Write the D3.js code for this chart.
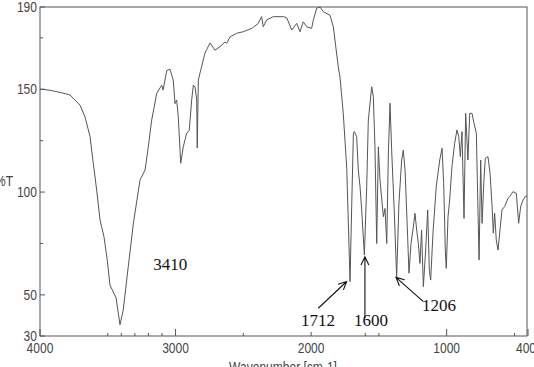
<!DOCTYPE html>
<html>
<head>
<meta charset="utf-8">
<script src="https://cdn.jsdelivr.net/npm/d3@7"></script>
<style>
  body { margin: 0; background: #fff; }
  .tick-label { font-family: "Liberation Sans", Arial, sans-serif; font-size: 14px; fill: #444; }
  .peak-label { font-family: "Liberation Serif", "DejaVu Serif", serif; font-size: 17px; fill: #111; }
</style>
</head>
<body>
<div id="chart"></div>
<script>
// spectrum: wavenumber (cm-1) and %T
const wavenumber = [
  4000, 3987, 3926, 3840, 3779, 3705, 3668, 3631, 3607, 3582, 3557, 3528, 3504, 3484, 3439, 3422, 3410,
  3386, 3349, 3311, 3262, 3225, 3201, 3176, 3139, 3102, 3092, 3065, 3041, 3017, 3004, 2992, 2980,
  2962, 2943, 2918, 2899, 2881, 2869, 2856, 2844, 2840, 2832, 2814, 2783, 2746, 2709, 2672, 2635,
  2623, 2598, 2549, 2500, 2438, 2390, 2365, 2353, 2328, 2279, 2205, 2180, 2143, 2106, 2082, 2058,
  2033, 1996, 1986, 1959, 1934, 1910, 1861, 1836, 1800, 1787, 1763, 1737, 1724, 1713, 1700, 1688,
  1681, 1664, 1652, 1639, 1627, 1607, 1590, 1578, 1553, 1541, 1529, 1516, 1504, 1492, 1467, 1455,
  1442, 1430, 1418, 1405, 1386, 1369, 1352, 1332, 1320, 1307, 1288, 1278, 1263, 1246, 1234, 1221,
  1209, 1197, 1185, 1172, 1155, 1140, 1128, 1118, 1101, 1077, 1051, 1034, 1022, 1010, 1003, 990,
  978, 961, 941, 924, 911, 899, 887, 872, 860, 843, 830, 813, 798, 781, 769, 761,
  749, 739, 725, 715, 695, 680, 665, 656, 646, 634, 621, 609, 592, 572, 547, 535,
  511, 486, 469, 454, 437, 420, 407
];
const transmittance = [
  150, 150, 149.5, 148.3, 147.2, 142.3, 136.6, 127, 114, 101, 86.4, 78.3, 67, 54.8, 48.5, 41, 35.5,
  42.6, 63.7, 84.9, 105.9, 110.7, 122, 135, 148, 152, 149.6, 159, 159.7, 154.5, 143, 144.8, 136.6,
  114, 122, 128.6, 130, 144.8, 152, 151, 144.8, 121.4, 154.5, 159.4, 167.6, 172.5, 169, 170.7, 173,
  172.3, 175.5, 177.2, 178, 179.6, 182, 185.3, 180.4, 183.7, 185.3, 185.3, 184.8, 178.8, 182, 178, 182.8,
  180.4, 179.6, 183, 189.4, 190, 187.7, 186, 180.4, 161, 156, 138.4, 111.5, 82, 56.4, 94.6, 128.6,
  129.4, 127, 110.7, 102.6, 91.3, 69.4, 102.6, 135, 151.2, 146.4, 122, 75, 122, 105.9, 88, 92,
  75, 119, 143.2, 119, 89.7, 58.8, 94.6, 115.6, 120.4, 110.7, 78.3, 60.6, 75, 83, 89.7, 81.5,
  75, 65.3, 81.5, 54, 71.8, 91.3, 62, 57.2, 80, 102.6, 115.6, 121.3, 104.2, 71.8, 62.9, 88,
  96.1, 112.3, 123.7, 130.2, 127, 117.2, 129.4, 87.2, 138.3, 115.6, 138.3, 138.3, 133.4, 128.6, 91.3, 67,
  115.6, 84.8, 105.9, 116.4, 117.2, 109.1, 93, 80, 89.7, 76.7, 71.8, 80, 91.3, 93, 97, 97.8,
  100.2, 99.4, 84.8, 93, 96.1, 97.8, 98
];

const yTicks = [190, 150, 100, 50, 30];
const yMinorTicks = [175, 125, 75];
const xTicks = [4000, 3000, 2000, 1000, 400];
const xMinorTicks = [3500, 3400, 3300, 3200, 3100, 2500, 1600, 1500, 500];

// peak labels: text, label position, arrow tip, arrow tail
const peakText = ["3410", "1712", "1600", "1206"];
const peakLabelAt = [[3165, 62], [2075, 34.8], [1684, 34.8], [1182, 42.1]];
const peakArrowTip = [null, [1738, 56.5], [1603, 68.5], [1374, 58.5]];
const peakArrowTail = [null, [1947, 43.5], [1603, 38.7], [1172, 46.7]];

const width = 534;
const height = 367;

const svg = d3.select("#chart").append("svg")
    .attr("width", width)
    .attr("height", height);

const x = d3.scaleLinear().domain([4000, 400]).range([40, 528]);
const y = d3.scaleLinear().domain([30, 190]).range([336, 7]);

// narrow sans labels, squeezed horizontally
function narrowText(g, tx, ty, anchor, str) {
  return g.append("text")
      .attr("class", "tick-label")
      .attr("transform", `translate(${tx},${ty}) scale(0.86,1)`)
      .attr("text-anchor", anchor)
      .text(str);
}

// frame
svg.append("rect")
    .attr("x", x(4000)).attr("y", y(190))
    .attr("width", 527 - x(4000)).attr("height", y(30) - y(190))
    .attr("fill", "none").attr("stroke", "#555").attr("stroke-width", 1);

// y ticks (inward)
svg.append("g").selectAll("line")
    .data(yTicks.concat(yMinorTicks))
    .join("line")
    .attr("x1", x(4000))
    .attr("x2", d => x(4000) + (yMinorTicks.includes(d) ? 3 : 5))
    .attr("y1", d => y(d)).attr("y2", d => y(d))
    .attr("stroke", "#555");

const yLab = svg.append("g");
yTicks.forEach(d => narrowText(yLab, 37, y(d) + 5, "end", d));

// x ticks (inward)
svg.append("g").selectAll("line")
    .data(xTicks.concat(xMinorTicks))
    .join("line")
    .attr("x1", d => x(d)).attr("x2", d => x(d))
    .attr("y1", y(30))
    .attr("y2", d => y(30) - (xMinorTicks.includes(d) ? 3 : (d === 2000 ? 4 : 7)))
    .attr("stroke", "#555");

const xLab = svg.append("g");
xTicks.forEach(d => narrowText(xLab, d === 400 ? x(d) - 2 : x(d), 353, "middle", d));

narrowText(svg, 283, 372, "middle", "Wavenumber [cm-1]");
narrowText(svg, 13, 186, "end", "%T");

// spectrum
const line = d3.line()
    .x(d => x(d[0]))
    .y(d => y(d[1]));

svg.append("path")
    .datum(d3.zip(wavenumber, transmittance))
    .attr("d", line)
    .attr("fill", "none")
    .attr("stroke", "#555")
    .attr("stroke-width", 1)
    .attr("stroke-linejoin", "round");

// peak labels and arrows
const ann = svg.append("g");
peakText.forEach((t, i) => {
  ann.append("text")
      .attr("class", "peak-label")
      .attr("x", x(peakLabelAt[i][0]))
      .attr("y", y(peakLabelAt[i][1]))
      .text(t);
  if (!peakArrowTip[i]) return;
  const tx = x(peakArrowTip[i][0]), ty = y(peakArrowTip[i][1]);
  const sx = x(peakArrowTail[i][0]), sy = y(peakArrowTail[i][1]);
  const a = Math.atan2(ty - sy, tx - sx);
  const h = 9, spread = 0.45;
  ann.append("path")
      .attr("d", `M${sx},${sy}L${tx},${ty}` +
        `M${tx - h * Math.cos(a - spread)},${ty - h * Math.sin(a - spread)}L${tx},${ty}` +
        `L${tx - h * Math.cos(a + spread)},${ty - h * Math.sin(a + spread)}`)
      .attr("fill", "none")
      .attr("stroke", "#111")
      .attr("stroke-width", 1.1);
});
</script>
</body>
</html>
